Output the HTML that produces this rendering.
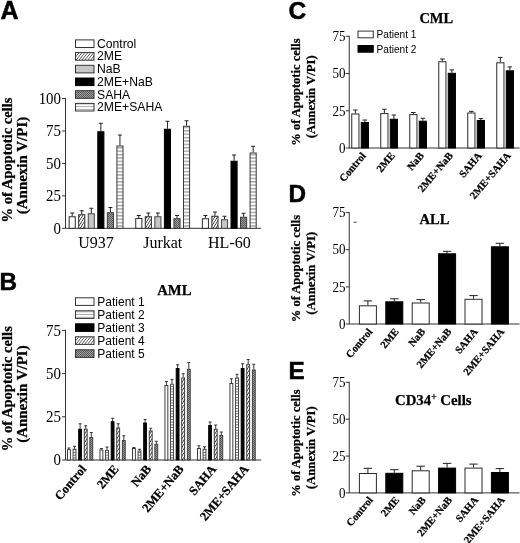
<!DOCTYPE html>
<html><head><meta charset="utf-8"><title>Figure</title>
<style>
html,body{margin:0;padding:0;background:#fff;}
svg{display:block;filter:blur(0.35px);}
.s{font-family:"Liberation Serif", serif;fill:#000;}
.sb{font-family:"Liberation Serif", serif;font-weight:bold;fill:#000;stroke:#000;stroke-width:0.25px;}
.a{font-family:"Liberation Sans", sans-serif;fill:#000;}
.ab{font-family:"Liberation Sans", sans-serif;font-weight:bold;fill:#000;}
</style></head><body>
<svg width="520" height="543" viewBox="0 0 520 543">
<defs>
<pattern id="hatch" width="2.3" height="2.3" patternUnits="userSpaceOnUse" patternTransform="rotate(-58)">
<rect width="2.3" height="2.3" fill="#fff"/><rect width="2.3" height="0.75" fill="#333"/></pattern>
<pattern id="hatchL" width="2.3" height="2.3" patternUnits="userSpaceOnUse" patternTransform="rotate(-52)">
<rect width="2.3" height="2.3" fill="#fff"/><rect width="2.3" height="0.75" fill="#555"/></pattern>
<pattern id="hs" width="4" height="3.4" patternUnits="userSpaceOnUse">
<rect width="4" height="3.4" fill="#fff"/><rect width="4" height="0.85" y="1.2" fill="#6a6a6a"/></pattern>
<pattern id="dgp" width="2" height="2" patternUnits="userSpaceOnUse">
<rect width="2" height="2" fill="#9c9c9c"/><rect width="1" height="1" fill="#5c5c5c"/><rect x="1" y="1" width="1" height="1" fill="#5c5c5c"/></pattern>
<pattern id="hsB" width="4" height="2.75" patternUnits="userSpaceOnUse">
<rect width="4" height="2.75" fill="#fff"/><rect width="4" height="0.85" y="1" fill="#555"/></pattern>
<pattern id="hsL" width="4" height="2.7" patternUnits="userSpaceOnUse">
<rect width="4" height="2.7" fill="#fff"/><rect width="4" height="0.8" y="1" fill="#999"/></pattern>
</defs>
<rect width="520" height="543" fill="#fff"/>

<!-- Panel A -->
<text class="ab" x="0.4" y="19.3" font-size="25" stroke="#000" stroke-width="0.5">A</text>
<rect x="75.5" y="39.90" width="18.5" height="7.6" fill="#fff" stroke="#333" stroke-width="1.0"/>
<text class="a" x="97" y="47.80" font-size="12.2">Control</text>
<rect x="75.5" y="52.60" width="18.5" height="7.6" fill="url(#hatchL)" stroke="#333" stroke-width="1.0"/>
<text class="a" x="97" y="60.48" font-size="12.2">2ME</text>
<rect x="75.5" y="65.30" width="18.5" height="7.6" fill="#c6c6c6" stroke="#333" stroke-width="1.0"/>
<text class="a" x="97" y="73.16" font-size="12.2">NaB</text>
<rect x="75.5" y="78.00" width="18.5" height="7.6" fill="#000" stroke="#000" stroke-width="1.0"/>
<text class="a" x="97" y="85.84" font-size="12.2">2ME+NaB</text>
<rect x="75.5" y="90.70" width="18.5" height="7.6" fill="url(#dgp)" stroke="#333" stroke-width="1.0"/>
<text class="a" x="97" y="98.52" font-size="12.2">SAHA</text>
<rect x="75.5" y="103.40" width="18.5" height="7.6" fill="url(#hsL)" stroke="#333" stroke-width="1.0"/>
<text class="a" x="97" y="111.20" font-size="12.2">2ME+SAHA</text>
<path d="M65.5 98.0V228.3H261" stroke="#333" stroke-width="1.0" fill="none"/>
<path d="M62.0 98.5H65.5" stroke="#333" stroke-width="1.0"/>
<text class="s" font-size="15.7" text-anchor="end" transform="translate(61.0 103.81) scale(0.95 1)">100</text>
<path d="M62.0 130.95H65.5" stroke="#333" stroke-width="1.0"/>
<text class="s" font-size="15.7" text-anchor="end" transform="translate(61.0 136.26) scale(0.95 1)">75</text>
<path d="M62.0 163.4H65.5" stroke="#333" stroke-width="1.0"/>
<text class="s" font-size="15.7" text-anchor="end" transform="translate(61.0 168.71) scale(0.95 1)">50</text>
<path d="M62.0 195.85H65.5" stroke="#333" stroke-width="1.0"/>
<text class="s" font-size="15.7" text-anchor="end" transform="translate(61.0 201.16) scale(0.95 1)">25</text>
<path d="M62.0 228.3H65.5" stroke="#333" stroke-width="1.0"/>
<text class="s" font-size="15.7" text-anchor="end" transform="translate(61.0 233.61) scale(0.95 1)">0</text>
<path d="M72.20 216.25V213.00M70.20 213.00H74.20" stroke="#222" stroke-width="1.0" fill="none"/>
<rect x="69.15" y="216.75" width="6.10" height="11.55" fill="#fff" stroke="#2a2a2a" stroke-width="1.0"/>
<path d="M81.75 214.25V210.75M79.75 210.75H83.75" stroke="#222" stroke-width="1.0" fill="none"/>
<rect x="78.70" y="214.75" width="6.10" height="13.55" fill="url(#hatch)" stroke="#2a2a2a" stroke-width="1.0"/>
<path d="M91.30 213.25V208.25M89.30 208.25H93.30" stroke="#222" stroke-width="1.0" fill="none"/>
<rect x="88.25" y="213.75" width="6.10" height="14.55" fill="#c6c6c6" stroke="#444" stroke-width="1.0"/>
<path d="M100.85 131.25V123.25M98.85 123.25H102.85" stroke="#222" stroke-width="1.0" fill="none"/>
<rect x="97.80" y="131.75" width="6.10" height="96.55" fill="#000" stroke="#000" stroke-width="1.0"/>
<path d="M110.40 212.25V207.50M108.40 207.50H112.40" stroke="#222" stroke-width="1.0" fill="none"/>
<rect x="107.35" y="212.75" width="6.10" height="15.55" fill="url(#dgp)" stroke="#383838" stroke-width="1.0"/>
<path d="M119.95 145.50V135.00M117.95 135.00H121.95" stroke="#222" stroke-width="1.0" fill="none"/>
<rect x="116.90" y="146.00" width="6.10" height="82.30" fill="url(#hs)" stroke="#3a3a3a" stroke-width="1.0"/>
<path d="M138.80 218.00V215.50M136.80 215.50H140.80" stroke="#222" stroke-width="1.0" fill="none"/>
<rect x="135.75" y="218.50" width="6.10" height="9.80" fill="#fff" stroke="#2a2a2a" stroke-width="1.0"/>
<path d="M148.35 216.25V213.00M146.35 213.00H150.35" stroke="#222" stroke-width="1.0" fill="none"/>
<rect x="145.30" y="216.75" width="6.10" height="11.55" fill="url(#hatch)" stroke="#2a2a2a" stroke-width="1.0"/>
<path d="M157.90 216.25V213.00M155.90 213.00H159.90" stroke="#222" stroke-width="1.0" fill="none"/>
<rect x="154.85" y="216.75" width="6.10" height="11.55" fill="#c6c6c6" stroke="#444" stroke-width="1.0"/>
<path d="M167.45 128.75V121.25M165.45 121.25H169.45" stroke="#222" stroke-width="1.0" fill="none"/>
<rect x="164.40" y="129.25" width="6.10" height="99.05" fill="#000" stroke="#000" stroke-width="1.0"/>
<path d="M177.00 218.25V215.50M175.00 215.50H179.00" stroke="#222" stroke-width="1.0" fill="none"/>
<rect x="173.95" y="218.75" width="6.10" height="9.55" fill="url(#dgp)" stroke="#383838" stroke-width="1.0"/>
<path d="M186.55 125.75V120.75M184.55 120.75H188.55" stroke="#222" stroke-width="1.0" fill="none"/>
<rect x="183.50" y="126.25" width="6.10" height="102.05" fill="url(#hs)" stroke="#3a3a3a" stroke-width="1.0"/>
<path d="M205.40 218.25V215.50M203.40 215.50H207.40" stroke="#222" stroke-width="1.0" fill="none"/>
<rect x="202.35" y="218.75" width="6.10" height="9.55" fill="#fff" stroke="#2a2a2a" stroke-width="1.0"/>
<path d="M214.95 215.75V212.00M212.95 212.00H216.95" stroke="#222" stroke-width="1.0" fill="none"/>
<rect x="211.90" y="216.25" width="6.10" height="12.05" fill="url(#hatch)" stroke="#2a2a2a" stroke-width="1.0"/>
<path d="M224.50 219.25V216.25M222.50 216.25H226.50" stroke="#222" stroke-width="1.0" fill="none"/>
<rect x="221.45" y="219.75" width="6.10" height="8.55" fill="#c6c6c6" stroke="#444" stroke-width="1.0"/>
<path d="M234.05 160.75V155.00M232.05 155.00H236.05" stroke="#222" stroke-width="1.0" fill="none"/>
<rect x="231.00" y="161.25" width="6.10" height="67.05" fill="#000" stroke="#000" stroke-width="1.0"/>
<path d="M243.60 216.75V213.25M241.60 213.25H245.60" stroke="#222" stroke-width="1.0" fill="none"/>
<rect x="240.55" y="217.25" width="6.10" height="11.05" fill="url(#dgp)" stroke="#383838" stroke-width="1.0"/>
<path d="M253.15 152.50V146.25M251.15 146.25H255.15" stroke="#222" stroke-width="1.0" fill="none"/>
<rect x="250.10" y="153.00" width="6.10" height="75.30" fill="url(#hs)" stroke="#3a3a3a" stroke-width="1.0"/>
<text class="s" x="96" y="247.5" font-size="16" text-anchor="middle">U937</text>
<text class="s" x="162.75" y="247.5" font-size="16" text-anchor="middle">Jurkat</text>
<text class="s" x="229.4" y="247.5" font-size="16" text-anchor="middle">HL-60</text>
<text class="sb" font-size="13.6" text-anchor="middle" transform="translate(12.4 160.0) rotate(-90)" textLength="125" lengthAdjust="spacingAndGlyphs">% of Apoptotic cells</text>
<text class="sb" font-size="13.6" text-anchor="middle" transform="translate(27.0 165.5) rotate(-90)" textLength="97.5" lengthAdjust="spacingAndGlyphs">(Annexin V/PI)</text>
<!-- Panel B -->
<text class="ab" x="-0.6" y="289.5" font-size="24.3" stroke="#000" stroke-width="0.5">B</text>
<text class="sb" x="174.3" y="295.2" font-size="14.7" text-anchor="middle">AML</text>
<rect x="75.5" y="297.80" width="18.5" height="7.6" fill="#fff" stroke="#333" stroke-width="1.0"/>
<text class="a" x="97.3" y="305.90" font-size="12">Patient 1</text>
<rect x="75.5" y="310.80" width="18.5" height="7.6" fill="url(#hsL)" stroke="#333" stroke-width="1.0"/>
<text class="a" x="97.3" y="318.80" font-size="12">Patient 2</text>
<rect x="75.5" y="323.80" width="18.5" height="7.6" fill="#000" stroke="#000" stroke-width="1.0"/>
<text class="a" x="97.3" y="331.70" font-size="12">Patient 3</text>
<rect x="75.5" y="336.80" width="18.5" height="7.6" fill="url(#hatchL)" stroke="#333" stroke-width="1.0"/>
<text class="a" x="97.3" y="344.60" font-size="12">Patient 4</text>
<rect x="75.5" y="349.80" width="18.5" height="7.6" fill="url(#dgp)" stroke="#333" stroke-width="1.0"/>
<text class="a" x="97.3" y="357.50" font-size="12">Patient 5</text>
<path d="M65.5 329.9V460H261.25" stroke="#333" stroke-width="1.0" fill="none"/>
<path d="M62.0 330.4H65.5" stroke="#333" stroke-width="1.0"/>
<text class="s" font-size="15.7" text-anchor="end" transform="translate(61.0 335.71) scale(0.95 1)">75</text>
<path d="M62.0 373.6H65.5" stroke="#333" stroke-width="1.0"/>
<text class="s" font-size="15.7" text-anchor="end" transform="translate(61.0 378.91) scale(0.95 1)">50</text>
<path d="M62.0 416.8H65.5" stroke="#333" stroke-width="1.0"/>
<text class="s" font-size="15.7" text-anchor="end" transform="translate(61.0 422.11) scale(0.95 1)">25</text>
<path d="M62.0 460H65.5" stroke="#333" stroke-width="1.0"/>
<text class="s" font-size="15.7" text-anchor="end" transform="translate(61.0 465.31) scale(0.95 1)">0</text>
<path d="M68.90 449.25V448.00M67.40 448.00H70.40" stroke="#222" stroke-width="0.9" fill="none"/>
<rect x="67.45" y="449.70" width="2.90" height="10.30" fill="#fff" stroke="#2a2a2a" stroke-width="0.9"/>
<path d="M74.50 448.75V446.25M73.00 446.25H76.00" stroke="#222" stroke-width="0.9" fill="none"/>
<rect x="73.05" y="449.20" width="2.90" height="10.80" fill="url(#hsB)" stroke="#3a3a3a" stroke-width="0.9"/>
<path d="M80.10 428.75V423.75M78.60 423.75H81.60" stroke="#222" stroke-width="0.9" fill="none"/>
<rect x="78.65" y="429.20" width="2.90" height="30.80" fill="#000" stroke="#000" stroke-width="0.9"/>
<path d="M85.70 428.75V425.75M84.20 425.75H87.20" stroke="#222" stroke-width="0.9" fill="none"/>
<rect x="84.25" y="429.20" width="2.90" height="30.80" fill="url(#hatch)" stroke="#2a2a2a" stroke-width="0.9"/>
<path d="M91.30 437.00V432.50M89.80 432.50H92.80" stroke="#222" stroke-width="0.9" fill="none"/>
<rect x="89.85" y="437.45" width="2.90" height="22.55" fill="url(#dgp)" stroke="#383838" stroke-width="0.9"/>
<path d="M101.40 449.50V448.50M99.90 448.50H102.90" stroke="#222" stroke-width="0.9" fill="none"/>
<rect x="99.95" y="449.95" width="2.90" height="10.05" fill="#fff" stroke="#2a2a2a" stroke-width="0.9"/>
<path d="M107.00 450.00V447.00M105.50 447.00H108.50" stroke="#222" stroke-width="0.9" fill="none"/>
<rect x="105.55" y="450.45" width="2.90" height="9.55" fill="url(#hsB)" stroke="#3a3a3a" stroke-width="0.9"/>
<path d="M112.60 421.25V418.25M111.10 418.25H114.10" stroke="#222" stroke-width="0.9" fill="none"/>
<rect x="111.15" y="421.70" width="2.90" height="38.30" fill="#000" stroke="#000" stroke-width="0.9"/>
<path d="M118.20 427.50V423.75M116.70 423.75H119.70" stroke="#222" stroke-width="0.9" fill="none"/>
<rect x="116.75" y="427.95" width="2.90" height="32.05" fill="url(#hatch)" stroke="#2a2a2a" stroke-width="0.9"/>
<path d="M123.80 440.00V435.75M122.30 435.75H125.30" stroke="#222" stroke-width="0.9" fill="none"/>
<rect x="122.35" y="440.45" width="2.90" height="19.55" fill="url(#dgp)" stroke="#383838" stroke-width="0.9"/>
<path d="M133.90 448.00V447.50M132.40 447.50H135.40" stroke="#222" stroke-width="0.9" fill="none"/>
<rect x="132.45" y="448.45" width="2.90" height="11.55" fill="#fff" stroke="#2a2a2a" stroke-width="0.9"/>
<path d="M139.50 450.50V449.25M138.00 449.25H141.00" stroke="#222" stroke-width="0.9" fill="none"/>
<rect x="138.05" y="450.95" width="2.90" height="9.05" fill="url(#hsB)" stroke="#3a3a3a" stroke-width="0.9"/>
<path d="M145.10 422.50V419.50M143.60 419.50H146.60" stroke="#222" stroke-width="0.9" fill="none"/>
<rect x="143.65" y="422.95" width="2.90" height="37.05" fill="#000" stroke="#000" stroke-width="0.9"/>
<path d="M150.70 430.50V428.25M149.20 428.25H152.20" stroke="#222" stroke-width="0.9" fill="none"/>
<rect x="149.25" y="430.95" width="2.90" height="29.05" fill="url(#hatch)" stroke="#2a2a2a" stroke-width="0.9"/>
<path d="M156.30 443.75V441.25M154.80 441.25H157.80" stroke="#222" stroke-width="0.9" fill="none"/>
<rect x="154.85" y="444.20" width="2.90" height="15.80" fill="url(#dgp)" stroke="#383838" stroke-width="0.9"/>
<path d="M166.40 385.00V381.50M164.90 381.50H167.90" stroke="#222" stroke-width="0.9" fill="none"/>
<rect x="164.95" y="385.45" width="2.90" height="74.55" fill="#fff" stroke="#2a2a2a" stroke-width="0.9"/>
<path d="M172.00 383.75V379.40M170.50 379.40H173.50" stroke="#222" stroke-width="0.9" fill="none"/>
<rect x="170.55" y="384.20" width="2.90" height="75.80" fill="url(#hsB)" stroke="#3a3a3a" stroke-width="0.9"/>
<path d="M177.60 368.00V364.75M176.10 364.75H179.10" stroke="#222" stroke-width="0.9" fill="none"/>
<rect x="176.15" y="368.45" width="2.90" height="91.55" fill="#000" stroke="#000" stroke-width="0.9"/>
<path d="M183.20 377.50V373.75M181.70 373.75H184.70" stroke="#222" stroke-width="0.9" fill="none"/>
<rect x="181.75" y="377.95" width="2.90" height="82.05" fill="url(#hatch)" stroke="#2a2a2a" stroke-width="0.9"/>
<path d="M188.80 368.75V362.50M187.30 362.50H190.30" stroke="#222" stroke-width="0.9" fill="none"/>
<rect x="187.35" y="369.20" width="2.90" height="90.80" fill="url(#dgp)" stroke="#383838" stroke-width="0.9"/>
<path d="M198.90 448.00V445.75M197.40 445.75H200.40" stroke="#222" stroke-width="0.9" fill="none"/>
<rect x="197.45" y="448.45" width="2.90" height="11.55" fill="#fff" stroke="#2a2a2a" stroke-width="0.9"/>
<path d="M204.50 448.75V446.75M203.00 446.75H206.00" stroke="#222" stroke-width="0.9" fill="none"/>
<rect x="203.05" y="449.20" width="2.90" height="10.80" fill="url(#hsB)" stroke="#3a3a3a" stroke-width="0.9"/>
<path d="M210.10 425.00V422.00M208.60 422.00H211.60" stroke="#222" stroke-width="0.9" fill="none"/>
<rect x="208.65" y="425.45" width="2.90" height="34.55" fill="#000" stroke="#000" stroke-width="0.9"/>
<path d="M215.70 428.75V425.00M214.20 425.00H217.20" stroke="#222" stroke-width="0.9" fill="none"/>
<rect x="214.25" y="429.20" width="2.90" height="30.80" fill="url(#hatch)" stroke="#2a2a2a" stroke-width="0.9"/>
<path d="M221.30 435.00V432.00M219.80 432.00H222.80" stroke="#222" stroke-width="0.9" fill="none"/>
<rect x="219.85" y="435.45" width="2.90" height="24.55" fill="url(#dgp)" stroke="#383838" stroke-width="0.9"/>
<path d="M231.40 383.00V378.75M229.90 378.75H232.90" stroke="#222" stroke-width="0.9" fill="none"/>
<rect x="229.95" y="383.45" width="2.90" height="76.55" fill="#fff" stroke="#2a2a2a" stroke-width="0.9"/>
<path d="M237.00 377.50V374.25M235.50 374.25H238.50" stroke="#222" stroke-width="0.9" fill="none"/>
<rect x="235.55" y="377.95" width="2.90" height="82.05" fill="url(#hsB)" stroke="#3a3a3a" stroke-width="0.9"/>
<path d="M242.60 368.00V363.75M241.10 363.75H244.10" stroke="#222" stroke-width="0.9" fill="none"/>
<rect x="241.15" y="368.45" width="2.90" height="91.55" fill="#000" stroke="#000" stroke-width="0.9"/>
<path d="M248.20 364.25V359.50M246.70 359.50H249.70" stroke="#222" stroke-width="0.9" fill="none"/>
<rect x="246.75" y="364.70" width="2.90" height="95.30" fill="url(#hatch)" stroke="#2a2a2a" stroke-width="0.9"/>
<path d="M253.80 369.50V364.25M252.30 364.25H255.30" stroke="#222" stroke-width="0.9" fill="none"/>
<rect x="252.35" y="369.95" width="2.90" height="90.05" fill="url(#dgp)" stroke="#383838" stroke-width="0.9"/>
<text class="sb" font-size="12.5" text-anchor="end" transform="translate(86.90 469.30) rotate(-50)">Control</text>
<text class="sb" font-size="12.5" text-anchor="end" transform="translate(119.40 469.30) rotate(-50)">2ME</text>
<text class="sb" font-size="12.5" text-anchor="end" transform="translate(151.90 469.30) rotate(-50)">NaB</text>
<text class="sb" font-size="12.5" text-anchor="end" transform="translate(184.40 469.30) rotate(-50)">2ME+NaB</text>
<text class="sb" font-size="12.5" text-anchor="end" transform="translate(216.90 469.30) rotate(-50)">SAHA</text>
<text class="sb" font-size="12.5" text-anchor="end" transform="translate(249.40 469.30) rotate(-50)">2ME+SAHA</text>
<text class="sb" font-size="13.6" text-anchor="middle" transform="translate(12.4 388.7) rotate(-90)" textLength="125" lengthAdjust="spacingAndGlyphs">% of Apoptotic cells</text>
<text class="sb" font-size="13.6" text-anchor="middle" transform="translate(27.0 394.1) rotate(-90)" textLength="97.5" lengthAdjust="spacingAndGlyphs">(Annexin V/PI)</text>
<!-- Panel C -->
<text class="ab" x="288.4" y="19.3" font-size="24.6" stroke="#000" stroke-width="0.5">C</text>
<text class="sb" x="436.3" y="23" font-size="14.5" text-anchor="middle">CML</text>
<rect x="358.0" y="31.10" width="15.25" height="6.7" fill="#fff" stroke="#333" stroke-width="1.0"/>
<text class="a" x="376.5" y="38.30" font-size="10.15">Patient 1</text>
<rect x="358.0" y="45.50" width="15.25" height="6.7" fill="#000" stroke="#000" stroke-width="1.0"/>
<text class="a" x="376.5" y="52.50" font-size="10.15">Patient 2</text>
<path d="M349.25 35.8V148.0H519.5" stroke="#333" stroke-width="1.0" fill="none"/>
<path d="M345.75 36.3H349.25" stroke="#333" stroke-width="1.0"/>
<text class="s" font-size="14" text-anchor="end" transform="translate(345.6 41.03) scale(0.93 1)">75</text>
<path d="M345.75 73.5H349.25" stroke="#333" stroke-width="1.0"/>
<text class="s" font-size="14" text-anchor="end" transform="translate(345.6 78.23) scale(0.93 1)">50</text>
<path d="M345.75 110.8H349.25" stroke="#333" stroke-width="1.0"/>
<text class="s" font-size="14" text-anchor="end" transform="translate(345.6 115.53) scale(0.93 1)">25</text>
<path d="M345.75 148.0H349.25" stroke="#333" stroke-width="1.0"/>
<text class="s" font-size="14" text-anchor="end" transform="translate(345.6 152.73) scale(0.93 1)">0</text>
<path d="M355.35 113.50V110.00M353.10 110.00H357.60" stroke="#222" stroke-width="1.0" fill="none"/>
<rect x="351.75" y="114.00" width="7.20" height="34.00" fill="#fff" stroke="#2a2a2a" stroke-width="1.0"/>
<path d="M364.85 122.00V120.00M362.60 120.00H367.10" stroke="#222" stroke-width="1.0" fill="none"/>
<rect x="361.25" y="122.50" width="7.20" height="25.50" fill="#000" stroke="#000" stroke-width="1.0"/>
<path d="M384.35 113.10V109.25M382.10 109.25H386.60" stroke="#222" stroke-width="1.0" fill="none"/>
<rect x="380.75" y="113.60" width="7.20" height="34.40" fill="#fff" stroke="#2a2a2a" stroke-width="1.0"/>
<path d="M393.85 118.75V115.00M391.60 115.00H396.10" stroke="#222" stroke-width="1.0" fill="none"/>
<rect x="390.25" y="119.25" width="7.20" height="28.75" fill="#000" stroke="#000" stroke-width="1.0"/>
<path d="M413.35 114.10V112.50M411.10 112.50H415.60" stroke="#222" stroke-width="1.0" fill="none"/>
<rect x="409.75" y="114.60" width="7.20" height="33.40" fill="#fff" stroke="#2a2a2a" stroke-width="1.0"/>
<path d="M422.85 120.70V118.25M420.60 118.25H425.10" stroke="#222" stroke-width="1.0" fill="none"/>
<rect x="419.25" y="121.20" width="7.20" height="26.80" fill="#000" stroke="#000" stroke-width="1.0"/>
<path d="M442.35 61.25V59.00M440.10 59.00H444.60" stroke="#222" stroke-width="1.0" fill="none"/>
<rect x="438.75" y="61.75" width="7.20" height="86.25" fill="#fff" stroke="#2a2a2a" stroke-width="1.0"/>
<path d="M451.85 72.80V69.90M449.60 69.90H454.10" stroke="#222" stroke-width="1.0" fill="none"/>
<rect x="448.25" y="73.30" width="7.20" height="74.70" fill="#000" stroke="#000" stroke-width="1.0"/>
<path d="M471.35 112.50V111.40M469.10 111.40H473.60" stroke="#222" stroke-width="1.0" fill="none"/>
<rect x="467.75" y="113.00" width="7.20" height="35.00" fill="#fff" stroke="#2a2a2a" stroke-width="1.0"/>
<path d="M480.85 120.00V118.60M478.60 118.60H483.10" stroke="#222" stroke-width="1.0" fill="none"/>
<rect x="477.25" y="120.50" width="7.20" height="27.50" fill="#000" stroke="#000" stroke-width="1.0"/>
<path d="M500.35 62.30V57.40M498.10 57.40H502.60" stroke="#222" stroke-width="1.0" fill="none"/>
<rect x="496.75" y="62.80" width="7.20" height="85.20" fill="#fff" stroke="#2a2a2a" stroke-width="1.0"/>
<path d="M509.85 70.30V66.90M507.60 66.90H512.10" stroke="#222" stroke-width="1.0" fill="none"/>
<rect x="506.25" y="70.80" width="7.20" height="77.20" fill="#000" stroke="#000" stroke-width="1.0"/>
<text class="sb" font-size="10.5" text-anchor="end" transform="translate(366.40 155.90) rotate(-50)">Control</text>
<text class="sb" font-size="10.5" text-anchor="end" transform="translate(395.40 155.90) rotate(-50)">2ME</text>
<text class="sb" font-size="10.5" text-anchor="end" transform="translate(424.40 155.90) rotate(-50)">NaB</text>
<text class="sb" font-size="10.5" text-anchor="end" transform="translate(453.40 155.90) rotate(-50)">2ME+NaB</text>
<text class="sb" font-size="10.5" text-anchor="end" transform="translate(482.40 155.90) rotate(-50)">SAHA</text>
<text class="sb" font-size="10.5" text-anchor="end" transform="translate(511.40 155.90) rotate(-50)">2ME+SAHA</text>
<text class="sb" font-size="12.5" text-anchor="middle" transform="translate(299.9 92.1) rotate(-90)">% of Apoptotic cells</text>
<text class="sb" font-size="12.5" text-anchor="middle" transform="translate(314.6 96.7) rotate(-90)" textLength="83" lengthAdjust="spacingAndGlyphs">(Annexin V/PI)</text>
<!-- Panel D -->
<text class="ab" x="288.6" y="201.9" font-size="24.3" stroke="#000" stroke-width="0.5">D</text>
<text class="sb" x="434.4" y="223.75" font-size="14.5" text-anchor="middle">ALL</text>
<path d="M349.25 212.1V324.0H519.5" stroke="#333" stroke-width="1.0" fill="none"/>
<path d="M345.75 212.6H349.25" stroke="#333" stroke-width="1.0"/>
<text class="s" font-size="14" text-anchor="end" transform="translate(345.6 217.33) scale(0.93 1)">75</text>
<path d="M345.75 249.7H349.25" stroke="#333" stroke-width="1.0"/>
<text class="s" font-size="14" text-anchor="end" transform="translate(345.6 254.43) scale(0.93 1)">50</text>
<path d="M345.75 286.9H349.25" stroke="#333" stroke-width="1.0"/>
<text class="s" font-size="14" text-anchor="end" transform="translate(345.6 291.63) scale(0.93 1)">25</text>
<path d="M345.75 324.0H349.25" stroke="#333" stroke-width="1.0"/>
<text class="s" font-size="14" text-anchor="end" transform="translate(345.6 328.73) scale(0.93 1)">0</text>
<path d="M353.7 222.2H356.6" stroke="#333" stroke-width="1"/>
<path d="M367.90 305.30V300.90M363.65 300.90H372.15" stroke="#222" stroke-width="1.0" fill="none"/>
<rect x="359.40" y="305.80" width="17.00" height="18.20" fill="#fff" stroke="#2a2a2a" stroke-width="1.0"/>
<path d="M394.30 301.30V298.80M390.05 298.80H398.55" stroke="#222" stroke-width="1.0" fill="none"/>
<rect x="385.80" y="301.80" width="17.00" height="22.20" fill="#000" stroke="#000" stroke-width="1.0"/>
<path d="M420.70 302.50V299.60M416.45 299.60H424.95" stroke="#222" stroke-width="1.0" fill="none"/>
<rect x="412.20" y="303.00" width="17.00" height="21.00" fill="#fff" stroke="#2a2a2a" stroke-width="1.0"/>
<path d="M447.10 253.30V251.30M442.85 251.30H451.35" stroke="#222" stroke-width="1.0" fill="none"/>
<rect x="438.60" y="253.80" width="17.00" height="70.20" fill="#000" stroke="#000" stroke-width="1.0"/>
<path d="M473.50 298.80V295.60M469.25 295.60H477.75" stroke="#222" stroke-width="1.0" fill="none"/>
<rect x="465.00" y="299.30" width="17.00" height="24.70" fill="#fff" stroke="#2a2a2a" stroke-width="1.0"/>
<path d="M499.90 246.30V243.30M495.65 243.30H504.15" stroke="#222" stroke-width="1.0" fill="none"/>
<rect x="491.40" y="246.80" width="17.00" height="77.20" fill="#000" stroke="#000" stroke-width="1.0"/>
<text class="sb" font-size="10.5" text-anchor="end" transform="translate(372.90 332.00) rotate(-50)">Control</text>
<text class="sb" font-size="10.5" text-anchor="end" transform="translate(399.30 332.00) rotate(-50)">2ME</text>
<text class="sb" font-size="10.5" text-anchor="end" transform="translate(425.70 332.00) rotate(-50)">NaB</text>
<text class="sb" font-size="10.5" text-anchor="end" transform="translate(452.10 332.00) rotate(-50)">2ME+NaB</text>
<text class="sb" font-size="10.5" text-anchor="end" transform="translate(478.50 332.00) rotate(-50)">SAHA</text>
<text class="sb" font-size="10.5" text-anchor="end" transform="translate(504.90 332.00) rotate(-50)">2ME+SAHA</text>
<text class="sb" font-size="12.5" text-anchor="middle" transform="translate(299.9 268.6) rotate(-90)">% of Apoptotic cells</text>
<text class="sb" font-size="12.5" text-anchor="middle" transform="translate(314.6 273.35) rotate(-90)" textLength="83" lengthAdjust="spacingAndGlyphs">(Annexin V/PI)</text>
<!-- Panel E -->
<text class="ab" x="288.6" y="378.5" font-size="24.3" stroke="#000" stroke-width="0.5">E</text>
<text class="sb" x="395" y="405" font-size="14.8">CD34<tspan font-size="9.5" dy="-5.5">+</tspan><tspan dy="5.5"> Cells</tspan></text>
<path d="M349.25 381.8V492.9H519.5" stroke="#333" stroke-width="1.0" fill="none"/>
<path d="M345.75 382.3H349.25" stroke="#333" stroke-width="1.0"/>
<text class="s" font-size="14" text-anchor="end" transform="translate(345.6 387.03) scale(0.93 1)">75</text>
<path d="M345.75 419.2H349.25" stroke="#333" stroke-width="1.0"/>
<text class="s" font-size="14" text-anchor="end" transform="translate(345.6 423.93) scale(0.93 1)">50</text>
<path d="M345.75 456.1H349.25" stroke="#333" stroke-width="1.0"/>
<text class="s" font-size="14" text-anchor="end" transform="translate(345.6 460.83) scale(0.93 1)">25</text>
<path d="M345.75 492.9H349.25" stroke="#333" stroke-width="1.0"/>
<text class="s" font-size="14" text-anchor="end" transform="translate(345.6 497.63) scale(0.93 1)">0</text>
<path d="M367.90 473.00V468.30M363.65 468.30H372.15" stroke="#222" stroke-width="1.0" fill="none"/>
<rect x="359.40" y="473.50" width="17.00" height="19.40" fill="#fff" stroke="#2a2a2a" stroke-width="1.0"/>
<path d="M394.30 472.80V469.70M390.05 469.70H398.55" stroke="#222" stroke-width="1.0" fill="none"/>
<rect x="385.80" y="473.30" width="17.00" height="19.60" fill="#000" stroke="#000" stroke-width="1.0"/>
<path d="M420.70 470.30V466.20M416.45 466.20H424.95" stroke="#222" stroke-width="1.0" fill="none"/>
<rect x="412.20" y="470.80" width="17.00" height="22.10" fill="#fff" stroke="#2a2a2a" stroke-width="1.0"/>
<path d="M447.10 467.60V463.40M442.85 463.40H451.35" stroke="#222" stroke-width="1.0" fill="none"/>
<rect x="438.60" y="468.10" width="17.00" height="24.80" fill="#000" stroke="#000" stroke-width="1.0"/>
<path d="M473.50 467.60V464.10M469.25 464.10H477.75" stroke="#222" stroke-width="1.0" fill="none"/>
<rect x="465.00" y="468.10" width="17.00" height="24.80" fill="#fff" stroke="#2a2a2a" stroke-width="1.0"/>
<path d="M499.90 472.00V468.60M495.65 468.60H504.15" stroke="#222" stroke-width="1.0" fill="none"/>
<rect x="491.40" y="472.50" width="17.00" height="20.40" fill="#000" stroke="#000" stroke-width="1.0"/>
<text class="sb" font-size="10.5" text-anchor="end" transform="translate(373.40 500.30) rotate(-50)">Control</text>
<text class="sb" font-size="10.5" text-anchor="end" transform="translate(399.80 500.30) rotate(-50)">2ME</text>
<text class="sb" font-size="10.5" text-anchor="end" transform="translate(426.20 500.30) rotate(-50)">NaB</text>
<text class="sb" font-size="10.5" text-anchor="end" transform="translate(452.60 500.30) rotate(-50)">2ME+NaB</text>
<text class="sb" font-size="10.5" text-anchor="end" transform="translate(479.00 500.30) rotate(-50)">SAHA</text>
<text class="sb" font-size="10.5" text-anchor="end" transform="translate(505.40 500.30) rotate(-50)">2ME+SAHA</text>
<text class="sb" font-size="12.5" text-anchor="middle" transform="translate(299.9 443.1) rotate(-90)">% of Apoptotic cells</text>
<text class="sb" font-size="12.5" text-anchor="middle" transform="translate(314.6 447.7) rotate(-90)" textLength="83" lengthAdjust="spacingAndGlyphs">(Annexin V/PI)</text>
</svg></body></html>
